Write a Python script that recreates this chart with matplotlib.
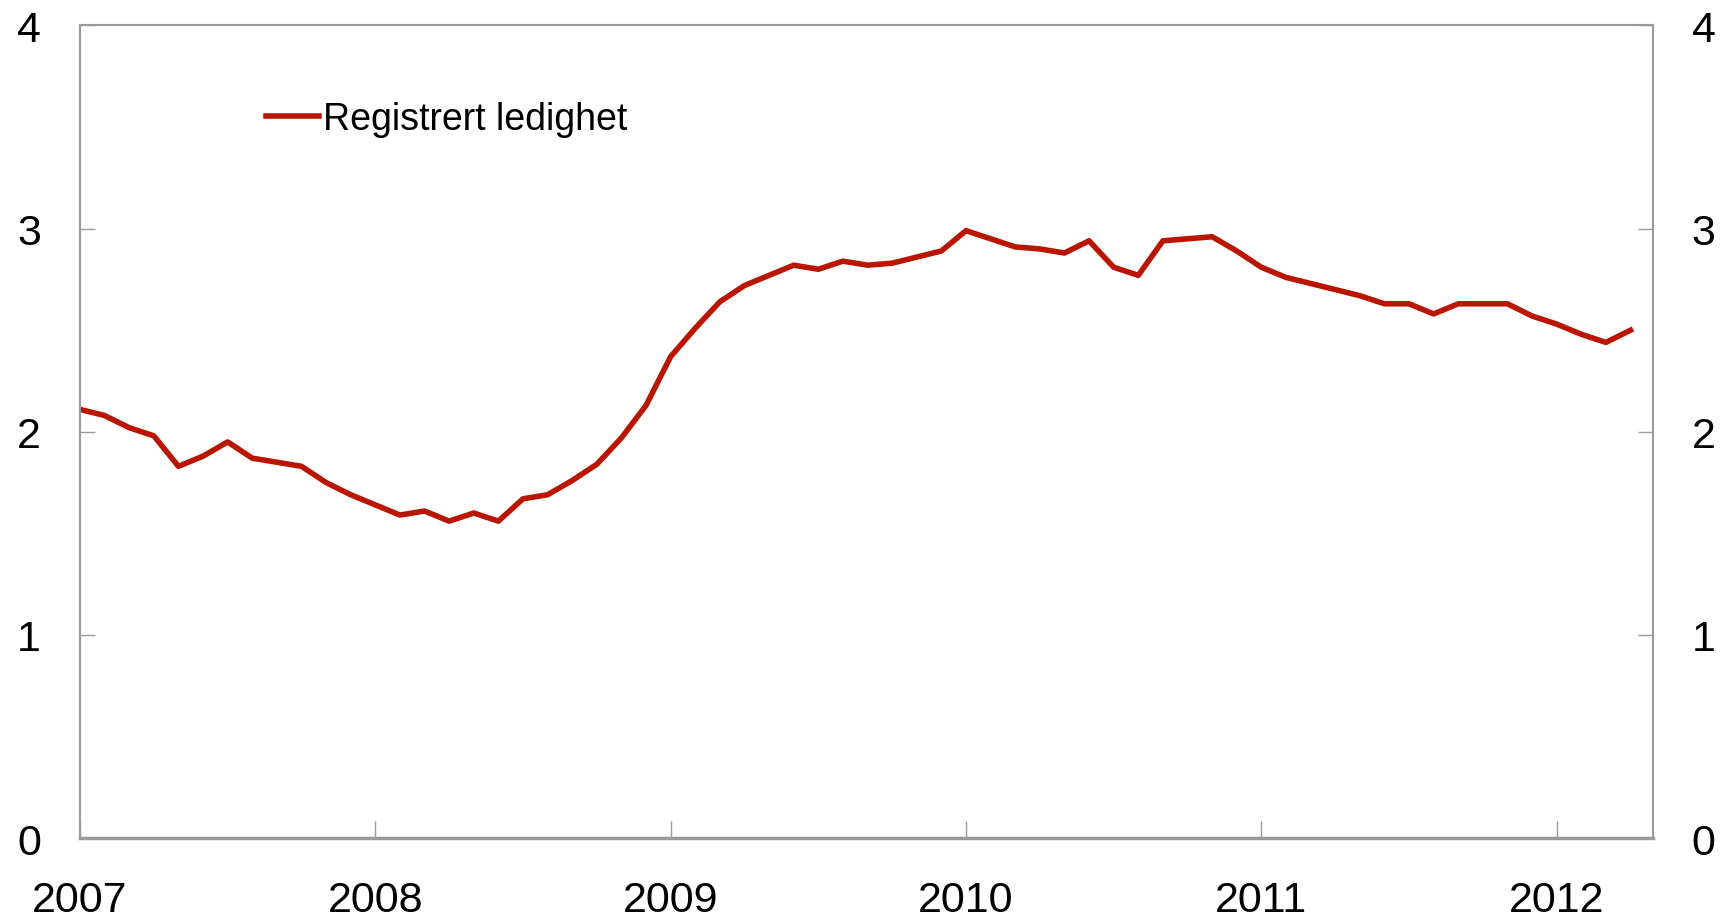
import numpy as np
import matplotlib.pyplot as plt

# Registered unemployment, monthly, Jan 2007 - Apr 2012 (percent)
start_year = 2007
ledighet = [
    2.11, 2.08, 2.02, 1.98, 1.83, 1.88, 1.95, 1.87, 1.85, 1.83, 1.75, 1.69,  # 2007
    1.64, 1.59, 1.61, 1.56, 1.60, 1.56, 1.67, 1.69, 1.76, 1.84, 1.97, 2.13,  # 2008
    2.37, 2.51, 2.64, 2.72, 2.77, 2.82, 2.80, 2.84, 2.82, 2.83, 2.86, 2.89,  # 2009
    2.99, 2.95, 2.91, 2.90, 2.88, 2.94, 2.81, 2.77, 2.94, 2.95, 2.96, 2.89,  # 2010
    2.81, 2.76, 2.73, 2.70, 2.67, 2.63, 2.63, 2.58, 2.63, 2.63, 2.63, 2.57,  # 2011
    2.53, 2.48, 2.44, 2.50,                                                  # 2012
]
year_ticks = [2007, 2008, 2009, 2010, 2011, 2012]
y_ticks = [0, 1, 2, 3, 4]
series_label = 'Registrert ledighet'

x = start_year + np.arange(len(ledighet)) / 12.0

plt.rcParams['font.family'] = ['Liberation Sans', 'DejaVu Sans']

fig = plt.figure(figsize=(17.35, 9.2), dpi=100)
ax = fig.add_axes([0.0461, 0.088, 0.9066, 0.8832])

ax.plot(x, ledighet, color='#B91500', lw=4.0, label=series_label)

ax.set_xlim(2007, 2012.326)
ax.set_ylim(0, 4)
ax.set_xticks(year_ticks)
ax.set_yticks(y_ticks)

grey = '#9a9a9a'
for s in ax.spines.values():
    s.set_color(grey)
    s.set_linewidth(1.5)
ax.spines['bottom'].set_linewidth(2.5)

ax.tick_params(axis='x', direction='in', length=12, width=1, color=grey,
               pad=30, labelsize=31)
ax.tick_params(axis='y', direction='in', length=11, width=1, color=grey,
               pad=28, labelsize=31, right=True, labelright=True)

ax.legend(loc='upper left', bbox_to_anchor=(0.109, 0.925), frameon=False,
          handlelength=1.4, handletextpad=0.12, borderaxespad=0,
          prop={'size': 27})

fig.savefig('out.png', dpi=100)
